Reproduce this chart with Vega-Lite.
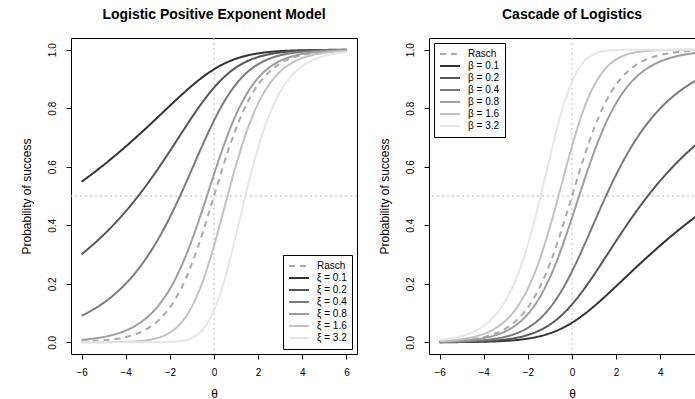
{
"$schema": "https://vega.github.io/schema/vega-lite/v6.json",
"padding": {"left": 19, "top": 7, "right": 0, "bottom": 0},
"background": "white",
"config": {
  "font": "Liberation Sans",
  "view": {"stroke": "black", "strokeWidth": 1},
  "axis": {"grid": false, "domain": false, "domainColor": "black", "domainWidth": 1, "tickColor": "black", "tickSize": 5, "tickWidth": 1, "labelColor": "black", "labelFontSize": 10, "titleFontSize": 12, "titleFontWeight": "normal", "titleColor": "black", "labelFont": "Liberation Sans", "titleFont": "Liberation Sans"},
  "axisX": {"labelPadding": 8, "titlePadding": 11},
  "axisY": {"labelAngle": 270, "labelAlign": "center", "labelBaseline": "bottom", "labelPadding": 9, "titlePadding": 14},
  "title": {"fontSize": 14, "fontWeight": "bold", "font": "Liberation Sans", "offset": 16, "color": "black"},
  "concat": {"spacing": 20}
},
"datasets": {
"lpe": [
{"t":-6,"p":0.0025,"s":"Rasch"},{"t":-5.5,"p":0.0041,"s":"Rasch"},{"t":-5,"p":0.0067,"s":"Rasch"},{"t":-4.5,"p":0.011,"s":"Rasch"},{"t":-4,"p":0.018,"s":"Rasch"},{"t":-3.5,"p":0.0293,"s":"Rasch"},{"t":-3,"p":0.0474,"s":"Rasch"},{"t":-2.5,"p":0.0759,"s":"Rasch"},{"t":-2,"p":0.1192,"s":"Rasch"},{"t":-1.5,"p":0.1824,"s":"Rasch"},{"t":-1,"p":0.2689,"s":"Rasch"},{"t":-0.5,"p":0.3775,"s":"Rasch"},{"t":0,"p":0.5,"s":"Rasch"},{"t":0.5,"p":0.6225,"s":"Rasch"},{"t":1,"p":0.7311,"s":"Rasch"},{"t":1.5,"p":0.8176,"s":"Rasch"},{"t":2,"p":0.8808,"s":"Rasch"},{"t":2.5,"p":0.9241,"s":"Rasch"},{"t":3,"p":0.9526,"s":"Rasch"},{"t":3.5,"p":0.9707,"s":"Rasch"},{"t":4,"p":0.982,"s":"Rasch"},{"t":4.5,"p":0.989,"s":"Rasch"},{"t":5,"p":0.9933,"s":"Rasch"},{"t":5.5,"p":0.9959,"s":"Rasch"},{"t":6,"p":0.9975,"s":"Rasch"},
{"t":-6,"p":0.5487,"s":"ξ = 0.1"},{"t":-5.5,"p":0.5767,"s":"ξ = 0.1"},{"t":-5,"p":0.6061,"s":"ξ = 0.1"},{"t":-4.5,"p":0.6369,"s":"ξ = 0.1"},{"t":-4,"p":0.6691,"s":"ξ = 0.1"},{"t":-3.5,"p":0.7026,"s":"ξ = 0.1"},{"t":-3,"p":0.7372,"s":"ξ = 0.1"},{"t":-2.5,"p":0.7727,"s":"ξ = 0.1"},{"t":-2,"p":0.8084,"s":"ξ = 0.1"},{"t":-1.5,"p":0.8435,"s":"ξ = 0.1"},{"t":-1,"p":0.8769,"s":"ξ = 0.1"},{"t":-0.5,"p":0.9072,"s":"ξ = 0.1"},{"t":0,"p":0.933,"s":"ξ = 0.1"},{"t":0.5,"p":0.9537,"s":"ξ = 0.1"},{"t":1,"p":0.9692,"s":"ξ = 0.1"},{"t":1.5,"p":0.9801,"s":"ξ = 0.1"},{"t":2,"p":0.9874,"s":"ξ = 0.1"},{"t":2.5,"p":0.9921,"s":"ξ = 0.1"},{"t":3,"p":0.9952,"s":"ξ = 0.1"},{"t":3.5,"p":0.997,"s":"ξ = 0.1"},{"t":4,"p":0.9982,"s":"ξ = 0.1"},{"t":4.5,"p":0.9989,"s":"ξ = 0.1"},{"t":5,"p":0.9993,"s":"ξ = 0.1"},{"t":5.5,"p":0.9996,"s":"ξ = 0.1"},{"t":6,"p":0.9998,"s":"ξ = 0.1"},
{"t":-6,"p":0.3011,"s":"ξ = 0.2"},{"t":-5.5,"p":0.3326,"s":"ξ = 0.2"},{"t":-5,"p":0.3674,"s":"ξ = 0.2"},{"t":-4.5,"p":0.4057,"s":"ξ = 0.2"},{"t":-4,"p":0.4477,"s":"ξ = 0.2"},{"t":-3.5,"p":0.4936,"s":"ξ = 0.2"},{"t":-3,"p":0.5435,"s":"ξ = 0.2"},{"t":-2.5,"p":0.597,"s":"ξ = 0.2"},{"t":-2,"p":0.6535,"s":"ξ = 0.2"},{"t":-1.5,"p":0.7116,"s":"ξ = 0.2"},{"t":-1,"p":0.769,"s":"ξ = 0.2"},{"t":-0.5,"p":0.823,"s":"ξ = 0.2"},{"t":0,"p":0.8706,"s":"ξ = 0.2"},{"t":0.5,"p":0.9095,"s":"ξ = 0.2"},{"t":1,"p":0.9393,"s":"ξ = 0.2"},{"t":1.5,"p":0.9605,"s":"ξ = 0.2"},{"t":2,"p":0.9749,"s":"ξ = 0.2"},{"t":2.5,"p":0.9843,"s":"ξ = 0.2"},{"t":3,"p":0.9903,"s":"ξ = 0.2"},{"t":3.5,"p":0.9941,"s":"ξ = 0.2"},{"t":4,"p":0.9964,"s":"ξ = 0.2"},{"t":4.5,"p":0.9978,"s":"ξ = 0.2"},{"t":5,"p":0.9987,"s":"ξ = 0.2"},{"t":5.5,"p":0.9992,"s":"ξ = 0.2"},{"t":6,"p":0.9995,"s":"ξ = 0.2"},
{"t":-6,"p":0.0906,"s":"ξ = 0.4"},{"t":-5.5,"p":0.1106,"s":"ξ = 0.4"},{"t":-5,"p":0.135,"s":"ξ = 0.4"},{"t":-4.5,"p":0.1646,"s":"ξ = 0.4"},{"t":-4,"p":0.2004,"s":"ξ = 0.4"},{"t":-3.5,"p":0.2437,"s":"ξ = 0.4"},{"t":-3,"p":0.2954,"s":"ξ = 0.4"},{"t":-2.5,"p":0.3565,"s":"ξ = 0.4"},{"t":-2,"p":0.4271,"s":"ξ = 0.4"},{"t":-1.5,"p":0.5063,"s":"ξ = 0.4"},{"t":-1,"p":0.5914,"s":"ξ = 0.4"},{"t":-0.5,"p":0.6773,"s":"ξ = 0.4"},{"t":0,"p":0.7579,"s":"ξ = 0.4"},{"t":0.5,"p":0.8273,"s":"ξ = 0.4"},{"t":1,"p":0.8822,"s":"ξ = 0.4"},{"t":1.5,"p":0.9226,"s":"ξ = 0.4"},{"t":2,"p":0.9505,"s":"ξ = 0.4"},{"t":2.5,"p":0.9689,"s":"ξ = 0.4"},{"t":3,"p":0.9808,"s":"ξ = 0.4"},{"t":3.5,"p":0.9882,"s":"ξ = 0.4"},{"t":4,"p":0.9928,"s":"ξ = 0.4"},{"t":4.5,"p":0.9956,"s":"ξ = 0.4"},{"t":5,"p":0.9973,"s":"ξ = 0.4"},{"t":5.5,"p":0.9984,"s":"ξ = 0.4"},{"t":6,"p":0.999,"s":"ξ = 0.4"},
{"t":-6,"p":0.0082,"s":"ξ = 0.8"},{"t":-5.5,"p":0.0122,"s":"ξ = 0.8"},{"t":-5,"p":0.0182,"s":"ξ = 0.8"},{"t":-4.5,"p":0.0271,"s":"ξ = 0.8"},{"t":-4,"p":0.0402,"s":"ξ = 0.8"},{"t":-3.5,"p":0.0594,"s":"ξ = 0.8"},{"t":-3,"p":0.0873,"s":"ξ = 0.8"},{"t":-2.5,"p":0.1271,"s":"ξ = 0.8"},{"t":-2,"p":0.1824,"s":"ξ = 0.8"},{"t":-1.5,"p":0.2564,"s":"ξ = 0.8"},{"t":-1,"p":0.3497,"s":"ξ = 0.8"},{"t":-0.5,"p":0.4587,"s":"ξ = 0.8"},{"t":0,"p":0.5743,"s":"ξ = 0.8"},{"t":0.5,"p":0.6844,"s":"ξ = 0.8"},{"t":1,"p":0.7783,"s":"ξ = 0.8"},{"t":1.5,"p":0.8512,"s":"ξ = 0.8"},{"t":2,"p":0.9035,"s":"ξ = 0.8"},{"t":2.5,"p":0.9388,"s":"ξ = 0.8"},{"t":3,"p":0.9619,"s":"ξ = 0.8"},{"t":3.5,"p":0.9765,"s":"ξ = 0.8"},{"t":4,"p":0.9856,"s":"ξ = 0.8"},{"t":4.5,"p":0.9912,"s":"ξ = 0.8"},{"t":5,"p":0.9946,"s":"ξ = 0.8"},{"t":5.5,"p":0.9967,"s":"ξ = 0.8"},{"t":6,"p":0.998,"s":"ξ = 0.8"},
{"t":-6,"p":0.0001,"s":"ξ = 1.6"},{"t":-5.5,"p":0.0002,"s":"ξ = 1.6"},{"t":-5,"p":0.0003,"s":"ξ = 1.6"},{"t":-4.5,"p":0.0007,"s":"ξ = 1.6"},{"t":-4,"p":0.0016,"s":"ξ = 1.6"},{"t":-3.5,"p":0.0035,"s":"ξ = 1.6"},{"t":-3,"p":0.0076,"s":"ξ = 1.6"},{"t":-2.5,"p":0.0161,"s":"ξ = 1.6"},{"t":-2,"p":0.0333,"s":"ξ = 1.6"},{"t":-1.5,"p":0.0657,"s":"ξ = 1.6"},{"t":-1,"p":0.1223,"s":"ξ = 1.6"},{"t":-0.5,"p":0.2105,"s":"ξ = 1.6"},{"t":0,"p":0.3299,"s":"ξ = 1.6"},{"t":0.5,"p":0.4683,"s":"ξ = 1.6"},{"t":1,"p":0.6058,"s":"ξ = 1.6"},{"t":1.5,"p":0.7245,"s":"ξ = 1.6"},{"t":2,"p":0.8162,"s":"ξ = 1.6"},{"t":2.5,"p":0.8814,"s":"ξ = 1.6"},{"t":3,"p":0.9252,"s":"ξ = 1.6"},{"t":3.5,"p":0.9535,"s":"ξ = 1.6"},{"t":4,"p":0.9714,"s":"ξ = 1.6"},{"t":4.5,"p":0.9825,"s":"ξ = 1.6"},{"t":5,"p":0.9893,"s":"ξ = 1.6"},{"t":5.5,"p":0.9935,"s":"ξ = 1.6"},{"t":6,"p":0.996,"s":"ξ = 1.6"},
{"t":-6,"p":0,"s":"ξ = 3.2"},{"t":-5.5,"p":0,"s":"ξ = 3.2"},{"t":-5,"p":0,"s":"ξ = 3.2"},{"t":-4.5,"p":0,"s":"ξ = 3.2"},{"t":-4,"p":0,"s":"ξ = 3.2"},{"t":-3.5,"p":0,"s":"ξ = 3.2"},{"t":-3,"p":0.0001,"s":"ξ = 3.2"},{"t":-2.5,"p":0.0003,"s":"ξ = 3.2"},{"t":-2,"p":0.0011,"s":"ξ = 3.2"},{"t":-1.5,"p":0.0043,"s":"ξ = 3.2"},{"t":-1,"p":0.015,"s":"ξ = 3.2"},{"t":-0.5,"p":0.0443,"s":"ξ = 3.2"},{"t":0,"p":0.1088,"s":"ξ = 3.2"},{"t":0.5,"p":0.2194,"s":"ξ = 3.2"},{"t":1,"p":0.367,"s":"ξ = 3.2"},{"t":1.5,"p":0.5249,"s":"ξ = 3.2"},{"t":2,"p":0.6662,"s":"ξ = 3.2"},{"t":2.5,"p":0.7769,"s":"ξ = 3.2"},{"t":3,"p":0.856,"s":"ξ = 3.2"},{"t":3.5,"p":0.9092,"s":"ξ = 3.2"},{"t":4,"p":0.9436,"s":"ξ = 3.2"},{"t":4.5,"p":0.9653,"s":"ξ = 3.2"},{"t":5,"p":0.9787,"s":"ξ = 3.2"},{"t":5.5,"p":0.987,"s":"ξ = 3.2"},{"t":6,"p":0.9921,"s":"ξ = 3.2"}
],
"cas": [
{"t":-6,"p":0.0025,"s":"Rasch"},{"t":-5.5,"p":0.0041,"s":"Rasch"},{"t":-5,"p":0.0067,"s":"Rasch"},{"t":-4.5,"p":0.011,"s":"Rasch"},{"t":-4,"p":0.018,"s":"Rasch"},{"t":-3.5,"p":0.0293,"s":"Rasch"},{"t":-3,"p":0.0474,"s":"Rasch"},{"t":-2.5,"p":0.0759,"s":"Rasch"},{"t":-2,"p":0.1192,"s":"Rasch"},{"t":-1.5,"p":0.1824,"s":"Rasch"},{"t":-1,"p":0.2689,"s":"Rasch"},{"t":-0.5,"p":0.3775,"s":"Rasch"},{"t":0,"p":0.5,"s":"Rasch"},{"t":0.5,"p":0.6225,"s":"Rasch"},{"t":1,"p":0.7311,"s":"Rasch"},{"t":1.5,"p":0.8176,"s":"Rasch"},{"t":2,"p":0.8808,"s":"Rasch"},{"t":2.5,"p":0.9241,"s":"Rasch"},{"t":3,"p":0.9526,"s":"Rasch"},{"t":3.5,"p":0.9707,"s":"Rasch"},{"t":4,"p":0.982,"s":"Rasch"},{"t":4.5,"p":0.989,"s":"Rasch"},{"t":5,"p":0.9933,"s":"Rasch"},{"t":5.5,"p":0.9959,"s":"Rasch"},{"t":6,"p":0.9975,"s":"Rasch"},
{"t":-6,"p":0.0003,"s":"β = 0.1"},{"t":-5.5,"p":0.0004,"s":"β = 0.1"},{"t":-5,"p":0.0007,"s":"β = 0.1"},{"t":-4.5,"p":0.0011,"s":"β = 0.1"},{"t":-4,"p":0.0018,"s":"β = 0.1"},{"t":-3.5,"p":0.003,"s":"β = 0.1"},{"t":-3,"p":0.0049,"s":"β = 0.1"},{"t":-2.5,"p":0.0079,"s":"β = 0.1"},{"t":-2,"p":0.0126,"s":"β = 0.1"},{"t":-1.5,"p":0.0199,"s":"β = 0.1"},{"t":-1,"p":0.0308,"s":"β = 0.1"},{"t":-0.5,"p":0.0463,"s":"β = 0.1"},{"t":0,"p":0.067,"s":"β = 0.1"},{"t":0.5,"p":0.0928,"s":"β = 0.1"},{"t":1,"p":0.1231,"s":"β = 0.1"},{"t":1.5,"p":0.1565,"s":"β = 0.1"},{"t":2,"p":0.1916,"s":"β = 0.1"},{"t":2.5,"p":0.2273,"s":"β = 0.1"},{"t":3,"p":0.2628,"s":"β = 0.1"},{"t":3.5,"p":0.2974,"s":"β = 0.1"},{"t":4,"p":0.3309,"s":"β = 0.1"},{"t":4.5,"p":0.3631,"s":"β = 0.1"},{"t":5,"p":0.3939,"s":"β = 0.1"},{"t":5.5,"p":0.4233,"s":"β = 0.1"},{"t":6,"p":0.4513,"s":"β = 0.1"},
{"t":-6,"p":0.0005,"s":"β = 0.2"},{"t":-5.5,"p":0.0008,"s":"β = 0.2"},{"t":-5,"p":0.0013,"s":"β = 0.2"},{"t":-4.5,"p":0.0022,"s":"β = 0.2"},{"t":-4,"p":0.0036,"s":"β = 0.2"},{"t":-3.5,"p":0.0059,"s":"β = 0.2"},{"t":-3,"p":0.0097,"s":"β = 0.2"},{"t":-2.5,"p":0.0157,"s":"β = 0.2"},{"t":-2,"p":0.0251,"s":"β = 0.2"},{"t":-1.5,"p":0.0395,"s":"β = 0.2"},{"t":-1,"p":0.0607,"s":"β = 0.2"},{"t":-0.5,"p":0.0905,"s":"β = 0.2"},{"t":0,"p":0.1294,"s":"β = 0.2"},{"t":0.5,"p":0.177,"s":"β = 0.2"},{"t":1,"p":0.231,"s":"β = 0.2"},{"t":1.5,"p":0.2884,"s":"β = 0.2"},{"t":2,"p":0.3465,"s":"β = 0.2"},{"t":2.5,"p":0.403,"s":"β = 0.2"},{"t":3,"p":0.4565,"s":"β = 0.2"},{"t":3.5,"p":0.5064,"s":"β = 0.2"},{"t":4,"p":0.5523,"s":"β = 0.2"},{"t":4.5,"p":0.5943,"s":"β = 0.2"},{"t":5,"p":0.6326,"s":"β = 0.2"},{"t":5.5,"p":0.6674,"s":"β = 0.2"},{"t":6,"p":0.6989,"s":"β = 0.2"},
{"t":-6,"p":0.001,"s":"β = 0.4"},{"t":-5.5,"p":0.0016,"s":"β = 0.4"},{"t":-5,"p":0.0027,"s":"β = 0.4"},{"t":-4.5,"p":0.0044,"s":"β = 0.4"},{"t":-4,"p":0.0072,"s":"β = 0.4"},{"t":-3.5,"p":0.0118,"s":"β = 0.4"},{"t":-3,"p":0.0193,"s":"β = 0.4"},{"t":-2.5,"p":0.0311,"s":"β = 0.4"},{"t":-2,"p":0.0495,"s":"β = 0.4"},{"t":-1.5,"p":0.0774,"s":"β = 0.4"},{"t":-1,"p":0.1178,"s":"β = 0.4"},{"t":-0.5,"p":0.1727,"s":"β = 0.4"},{"t":0,"p":0.2421,"s":"β = 0.4"},{"t":0.5,"p":0.3227,"s":"β = 0.4"},{"t":1,"p":0.4086,"s":"β = 0.4"},{"t":1.5,"p":0.4937,"s":"β = 0.4"},{"t":2,"p":0.5729,"s":"β = 0.4"},{"t":2.5,"p":0.6435,"s":"β = 0.4"},{"t":3,"p":0.7046,"s":"β = 0.4"},{"t":3.5,"p":0.7563,"s":"β = 0.4"},{"t":4,"p":0.7996,"s":"β = 0.4"},{"t":4.5,"p":0.8354,"s":"β = 0.4"},{"t":5,"p":0.865,"s":"β = 0.4"},{"t":5.5,"p":0.8894,"s":"β = 0.4"},{"t":6,"p":0.9094,"s":"β = 0.4"},
{"t":-6,"p":0.002,"s":"β = 0.8"},{"t":-5.5,"p":0.0033,"s":"β = 0.8"},{"t":-5,"p":0.0054,"s":"β = 0.8"},{"t":-4.5,"p":0.0088,"s":"β = 0.8"},{"t":-4,"p":0.0144,"s":"β = 0.8"},{"t":-3.5,"p":0.0235,"s":"β = 0.8"},{"t":-3,"p":0.0381,"s":"β = 0.8"},{"t":-2.5,"p":0.0612,"s":"β = 0.8"},{"t":-2,"p":0.0966,"s":"β = 0.8"},{"t":-1.5,"p":0.1488,"s":"β = 0.8"},{"t":-1,"p":0.2217,"s":"β = 0.8"},{"t":-0.5,"p":0.3156,"s":"β = 0.8"},{"t":0,"p":0.4257,"s":"β = 0.8"},{"t":0.5,"p":0.5413,"s":"β = 0.8"},{"t":1,"p":0.6503,"s":"β = 0.8"},{"t":1.5,"p":0.7436,"s":"β = 0.8"},{"t":2,"p":0.8176,"s":"β = 0.8"},{"t":2.5,"p":0.8729,"s":"β = 0.8"},{"t":3,"p":0.9127,"s":"β = 0.8"},{"t":3.5,"p":0.9406,"s":"β = 0.8"},{"t":4,"p":0.9598,"s":"β = 0.8"},{"t":4.5,"p":0.9729,"s":"β = 0.8"},{"t":5,"p":0.9818,"s":"β = 0.8"},{"t":5.5,"p":0.9878,"s":"β = 0.8"},{"t":6,"p":0.9918,"s":"β = 0.8"},
{"t":-6,"p":0.004,"s":"β = 1.6"},{"t":-5.5,"p":0.0065,"s":"β = 1.6"},{"t":-5,"p":0.0107,"s":"β = 1.6"},{"t":-4.5,"p":0.0175,"s":"β = 1.6"},{"t":-4,"p":0.0286,"s":"β = 1.6"},{"t":-3.5,"p":0.0465,"s":"β = 1.6"},{"t":-3,"p":0.0748,"s":"β = 1.6"},{"t":-2.5,"p":0.1186,"s":"β = 1.6"},{"t":-2,"p":0.1838,"s":"β = 1.6"},{"t":-1.5,"p":0.2755,"s":"β = 1.6"},{"t":-1,"p":0.3942,"s":"β = 1.6"},{"t":-0.5,"p":0.5317,"s":"β = 1.6"},{"t":0,"p":0.6701,"s":"β = 1.6"},{"t":0.5,"p":0.7895,"s":"β = 1.6"},{"t":1,"p":0.8777,"s":"β = 1.6"},{"t":1.5,"p":0.9343,"s":"β = 1.6"},{"t":2,"p":0.9667,"s":"β = 1.6"},{"t":2.5,"p":0.9839,"s":"β = 1.6"},{"t":3,"p":0.9924,"s":"β = 1.6"},{"t":3.5,"p":0.9965,"s":"β = 1.6"},{"t":4,"p":0.9984,"s":"β = 1.6"},{"t":4.5,"p":0.9993,"s":"β = 1.6"},{"t":5,"p":0.9997,"s":"β = 1.6"},{"t":5.5,"p":0.9999,"s":"β = 1.6"},{"t":6,"p":0.9999,"s":"β = 1.6"},
{"t":-6,"p":0.0079,"s":"β = 3.2"},{"t":-5.5,"p":0.013,"s":"β = 3.2"},{"t":-5,"p":0.0213,"s":"β = 3.2"},{"t":-4.5,"p":0.0347,"s":"β = 3.2"},{"t":-4,"p":0.0564,"s":"β = 3.2"},{"t":-3.5,"p":0.0908,"s":"β = 3.2"},{"t":-3,"p":0.144,"s":"β = 3.2"},{"t":-2.5,"p":0.2231,"s":"β = 3.2"},{"t":-2,"p":0.3338,"s":"β = 3.2"},{"t":-1.5,"p":0.4751,"s":"β = 3.2"},{"t":-1,"p":0.633,"s":"β = 3.2"},{"t":-0.5,"p":0.7806,"s":"β = 3.2"},{"t":0,"p":0.8912,"s":"β = 3.2"},{"t":0.5,"p":0.9557,"s":"β = 3.2"},{"t":1,"p":0.985,"s":"β = 3.2"},{"t":1.5,"p":0.9957,"s":"β = 3.2"},{"t":2,"p":0.9989,"s":"β = 3.2"},{"t":2.5,"p":0.9997,"s":"β = 3.2"},{"t":3,"p":0.9999,"s":"β = 3.2"},{"t":3.5,"p":1,"s":"β = 3.2"},{"t":4,"p":1,"s":"β = 3.2"},{"t":4.5,"p":1,"s":"β = 3.2"},{"t":5,"p":1,"s":"β = 3.2"},{"t":5.5,"p":1,"s":"β = 3.2"},{"t":6,"p":1,"s":"β = 3.2"}
]
},
"hconcat": [
{
  "title": {"text": "Logistic Positive Exponent Model"},
  "width": 286, "height": 316,
  "data": {"name": "lpe"},
  "layer": [
    {"data": {"values": [{}]}, "mark": {"type": "rule", "color": "#BEBEBE", "strokeDash": [2, 3], "strokeWidth": 1},
     "encoding": {"x": {"datum": 0, "type": "quantitative"}}},
    {"data": {"values": [{}]}, "mark": {"type": "rule", "color": "#BEBEBE", "strokeDash": [2, 3], "strokeWidth": 1},
     "encoding": {"y": {"datum": 0.5, "type": "quantitative"}}},
    {"mark": {"type": "line", "strokeWidth": 2, "interpolate": "monotone", "clip": true},
     "encoding": {
       "x": {"field": "t", "type": "quantitative", "scale": {"domain": [-6.48, 6.48], "nice": false, "zero": false}, "axis": {"values": [-6, -4, -2, 0, 2, 4, 6], "title": "θ"}},
       "y": {"field": "p", "type": "quantitative", "scale": {"domain": [-0.04, 1.04], "nice": false, "zero": false}, "axis": {"values": [0, 0.2, 0.4, 0.6, 0.8, 1], "format": ".1f", "title": "Probability of success"}},
       "color": {"field": "s", "type": "nominal",
         "scale": {"domain": ["Rasch", "ξ = 0.1", "ξ = 0.2", "ξ = 0.4", "ξ = 0.8", "ξ = 1.6", "ξ = 3.2"], "range": ["#AAAAAA", "#333333", "#575757", "#7A7A7A", "#9E9E9E", "#C2C2C2", "#E6E6E6"]},
         "legend": {"title": null, "orient": "bottom-right", "offset": 5, "strokeColor": "black", "fillColor": "white", "padding": 5, "cornerRadius": 0, "symbolType": "stroke", "symbolSize": 400, "symbolStrokeWidth": 2, "clipHeight": 12, "rowPadding": -0.5, "labelFontSize": 10, "labelOffset": 7, "labelColor": "black", "labelFont": "Liberation Sans",
           "encode": {"symbols": {"update": {"strokeDash": {"signal": "(datum.value == 'Rasch' || datum.value == 'ξ = 3.2') ? [6, 5] : [1, 0]"}}}}}},
       "strokeDash": {"field": "s", "type": "nominal",
         "scale": {"domain": ["Rasch", "ξ = 0.1", "ξ = 0.2", "ξ = 0.4", "ξ = 0.8", "ξ = 1.6", "ξ = 3.2"], "range": [[6, 5], [1, 0], [1, 0], [1, 0], [1, 0], [1, 0], [1, 0]]},
         "legend": null}
     }}
  ]
},
{
  "title": {"text": "Cascade of Logistics", "dx": 8},
  "width": 270, "height": 316,
  "view": {"stroke": null},
  "data": {"name": "cas"},
  "layer": [
    {"data": {"values": [{}]}, "mark": {"type": "rule", "color": "#BEBEBE", "strokeDash": [2, 3], "strokeWidth": 1},
     "encoding": {"x": {"datum": 0, "type": "quantitative", "axis": {"orient": "top", "labels": false, "ticks": false, "domain": true, "title": null}}}},
    {"data": {"values": [{}]}, "mark": {"type": "rule", "color": "#BEBEBE", "strokeDash": [2, 3], "strokeWidth": 1},
     "encoding": {"y": {"datum": 0.5, "type": "quantitative"}}},
    {"mark": {"type": "line", "strokeWidth": 2, "interpolate": "monotone", "clip": true},
     "encoding": {
       "x": {"field": "t", "type": "quantitative", "scale": {"domain": [-6.48, 5.755], "nice": false, "zero": false}, "axis": {"values": [-6, -4, -2, 0, 2, 4], "title": "θ", "domain": true, "titleX": 143}},
       "y": {"field": "p", "type": "quantitative", "scale": {"domain": [-0.04, 1.04], "nice": false, "zero": false}, "axis": {"values": [0, 0.2, 0.4, 0.6, 0.8, 1], "format": ".1f", "title": "Probability of success", "domain": true}},
       "color": {"field": "s", "type": "nominal",
         "scale": {"domain": ["Rasch", "β = 0.1", "β = 0.2", "β = 0.4", "β = 0.8", "β = 1.6", "β = 3.2"], "range": ["#AAAAAA", "#333333", "#575757", "#7A7A7A", "#9E9E9E", "#C2C2C2", "#E6E6E6"]},
         "legend": {"title": null, "orient": "top-left", "offset": 5, "strokeColor": "black", "fillColor": "white", "padding": 5, "cornerRadius": 0, "symbolType": "stroke", "symbolSize": 400, "symbolStrokeWidth": 2, "clipHeight": 12, "rowPadding": -0.5, "labelFontSize": 10, "labelOffset": 7, "labelColor": "black", "labelFont": "Liberation Sans",
           "encode": {"symbols": {"update": {"strokeDash": {"signal": "(datum.value == 'Rasch' || datum.value == 'β = 3.2') ? [6, 5] : [1, 0]"}}}}}},
       "strokeDash": {"field": "s", "type": "nominal",
         "scale": {"domain": ["Rasch", "β = 0.1", "β = 0.2", "β = 0.4", "β = 0.8", "β = 1.6", "β = 3.2"], "range": [[6, 5], [1, 0], [1, 0], [1, 0], [1, 0], [1, 0], [1, 0]]},
         "legend": null}
     }}
  ],
  "resolve": {"axis": {"x": "independent"}}
}
],
"resolve": {"scale": {"color": "independent", "strokeDash": "independent"}, "legend": {"color": "independent"}}
}
